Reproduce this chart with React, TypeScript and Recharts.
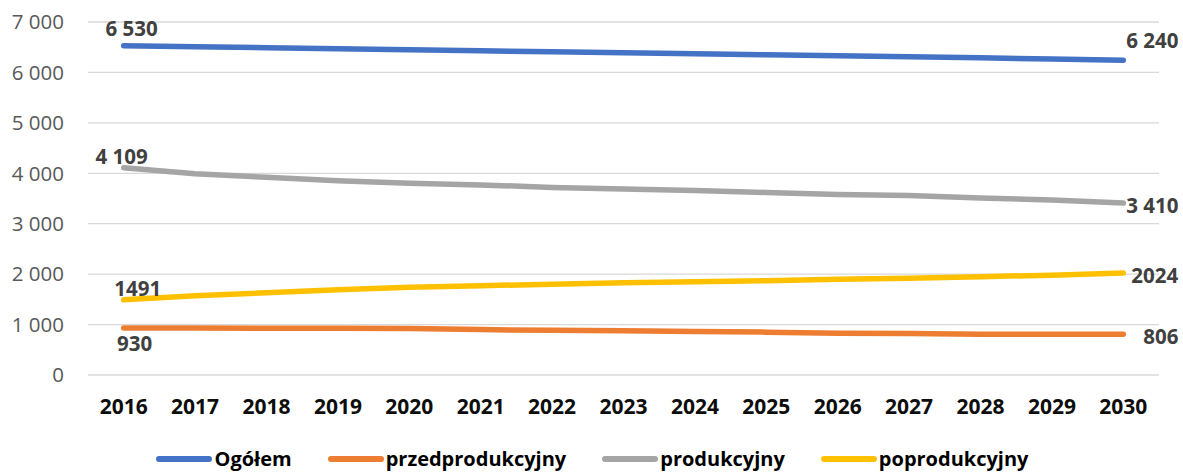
import { CartesianGrid, Legend, LabelList, Line, LineChart, XAxis, YAxis } from "recharts"

const years = ["2016", "2017", "2018", "2019", "2020", "2021", "2022", "2023", "2024", "2025", "2026", "2027", "2028", "2029", "2030"]

const ogolem = [6530, 6510, 6490, 6470, 6450, 6430, 6410, 6390, 6370, 6350, 6330, 6310, 6290, 6265, 6240]
const przedprodukcyjny = [930, 930, 928, 925, 920, 900, 885, 878, 865, 850, 830, 822, 810, 806, 806]
const produkcyjny = [4109, 3990, 3920, 3850, 3800, 3770, 3720, 3690, 3660, 3620, 3580, 3560, 3510, 3470, 3410]
const poprodukcyjny = [1491, 1570, 1630, 1690, 1740, 1770, 1800, 1830, 1850, 1870, 1900, 1920, 1950, 1980, 2024]

const yTicks = [0, 1000, 2000, 3000, 4000, 5000, 6000, 7000]

const series = [
  { key: "ogolem", name: "Ogółem", color: "#4472C4", spaced: true },
  { key: "przed", name: "przedprodukcyjny", color: "#ED7D31", spaced: false },
  { key: "prod", name: "produkcyjny", color: "#A5A5A5", spaced: true },
  { key: "po", name: "poprodukcyjny", color: "#FFC000", spaced: false },
]

// offsets for the first / last labels, per series
const labelPos: Record<string, { first: [number, number]; last: [number, number] }> = {
  ogolem: { first: [8, -18], last: [3, -20] },
  przed: { first: [11, 15], last: [20, 2] },
  prod: { first: [-2, -12], last: [3, 2] },
  po: { first: [14, -12], last: [8, 2] },
}

const data = years.map((year, i) => ({
  year,
  ogolem: ogolem[i],
  przed: przedprodukcyjny[i],
  prod: produkcyjny[i],
  po: poprodukcyjny[i],
}))

const FONT = "'Open Sans', sans-serif"

function spaced(v: number) {
  return String(v).replace(/\B(?=(\d{3})+(?!\d))/g, " ")
}

function makeLabel(key: string, withSpace: boolean) {
  return (props: any) => {
    const { x, y, index, value } = props
    const last = years.length - 1
    if (index !== 0 && index !== last) return null
    const pos = labelPos[key]
    const [dx, dy] = index === 0 ? pos.first : pos.last
    return (
      <text
        x={x + dx}
        y={y + dy}
        textAnchor={index === 0 ? "middle" : "start"}
        dominantBaseline="central"
        fontFamily={FONT}
        fontSize={20.5}
        fontWeight={700}
        fill="#404040"
      >
        {withSpace ? spaced(value) : String(value)}
      </text>
    )
  }
}

function LegendContent() {
  return (
    <div
      style={{
        display: "flex",
        justifyContent: "center",
        alignItems: "center",
        height: 47,
        paddingTop: 20,
        paddingLeft: 26,
        boxSizing: "border-box",
        fontFamily: FONT,
        fontWeight: 700,
        fontSize: 20,
        color: "#000",
      }}
    >
      {series.map((s, i) => (
        <div key={s.key} style={{ display: "flex", alignItems: "center", marginLeft: i === 0 ? 0 : 36 }}>
          <svg width={56} height={8} style={{ marginRight: 2 }}>
            <line x1={3} y1={4} x2={53} y2={4} stroke={s.color} strokeWidth={6} strokeLinecap="round" />
          </svg>
          <span>{s.name}</span>
        </div>
      ))}
    </div>
  )
}

export default function App() {
  return (
    <div style={{ position: "absolute", left: 0, top: 0, width: 1183, height: 472, background: "#fff" }}>
      <LineChart width={1183} height={472} data={data} margin={{ top: 22, right: 24, left: 0, bottom: 0 }}>
        <CartesianGrid vertical={false} stroke="#d9d9d9" strokeWidth={1.3} />
        <XAxis
          dataKey="year"
          padding={{ left: 35.7, right: 35.7 }}
          axisLine={false}
          tickLine={false}
          tickSize={0}
          tickMargin={24}
          height={50}
          interval={0}
          tick={{ fontFamily: FONT, fontSize: 21, fontWeight: 700, fill: "#0d0d0d" }}
        />
        <YAxis
          domain={[0, 7000]}
          ticks={yTicks}
          axisLine={false}
          tickLine={false}
          tickSize={0}
          tickMargin={24}
          width={88}
          tickFormatter={(v: number) => spaced(v)}
          tick={{ fontFamily: FONT, fontSize: 20.5, fill: "#595959" }}
        />
        <Legend verticalAlign="bottom" height={47} content={() => <LegendContent />} />
        {series.map((s) => (
          <Line
            key={s.key}
            type="linear"
            dataKey={s.key}
            name={s.name}
            stroke={s.color}
            strokeWidth={5.5}
            strokeLinecap="round"
            dot={false}
            activeDot={false}
            isAnimationActive={false}
          >
            <LabelList dataKey={s.key} content={makeLabel(s.key, s.spaced)} />
          </Line>
        ))}
      </LineChart>
    </div>
  )
}
